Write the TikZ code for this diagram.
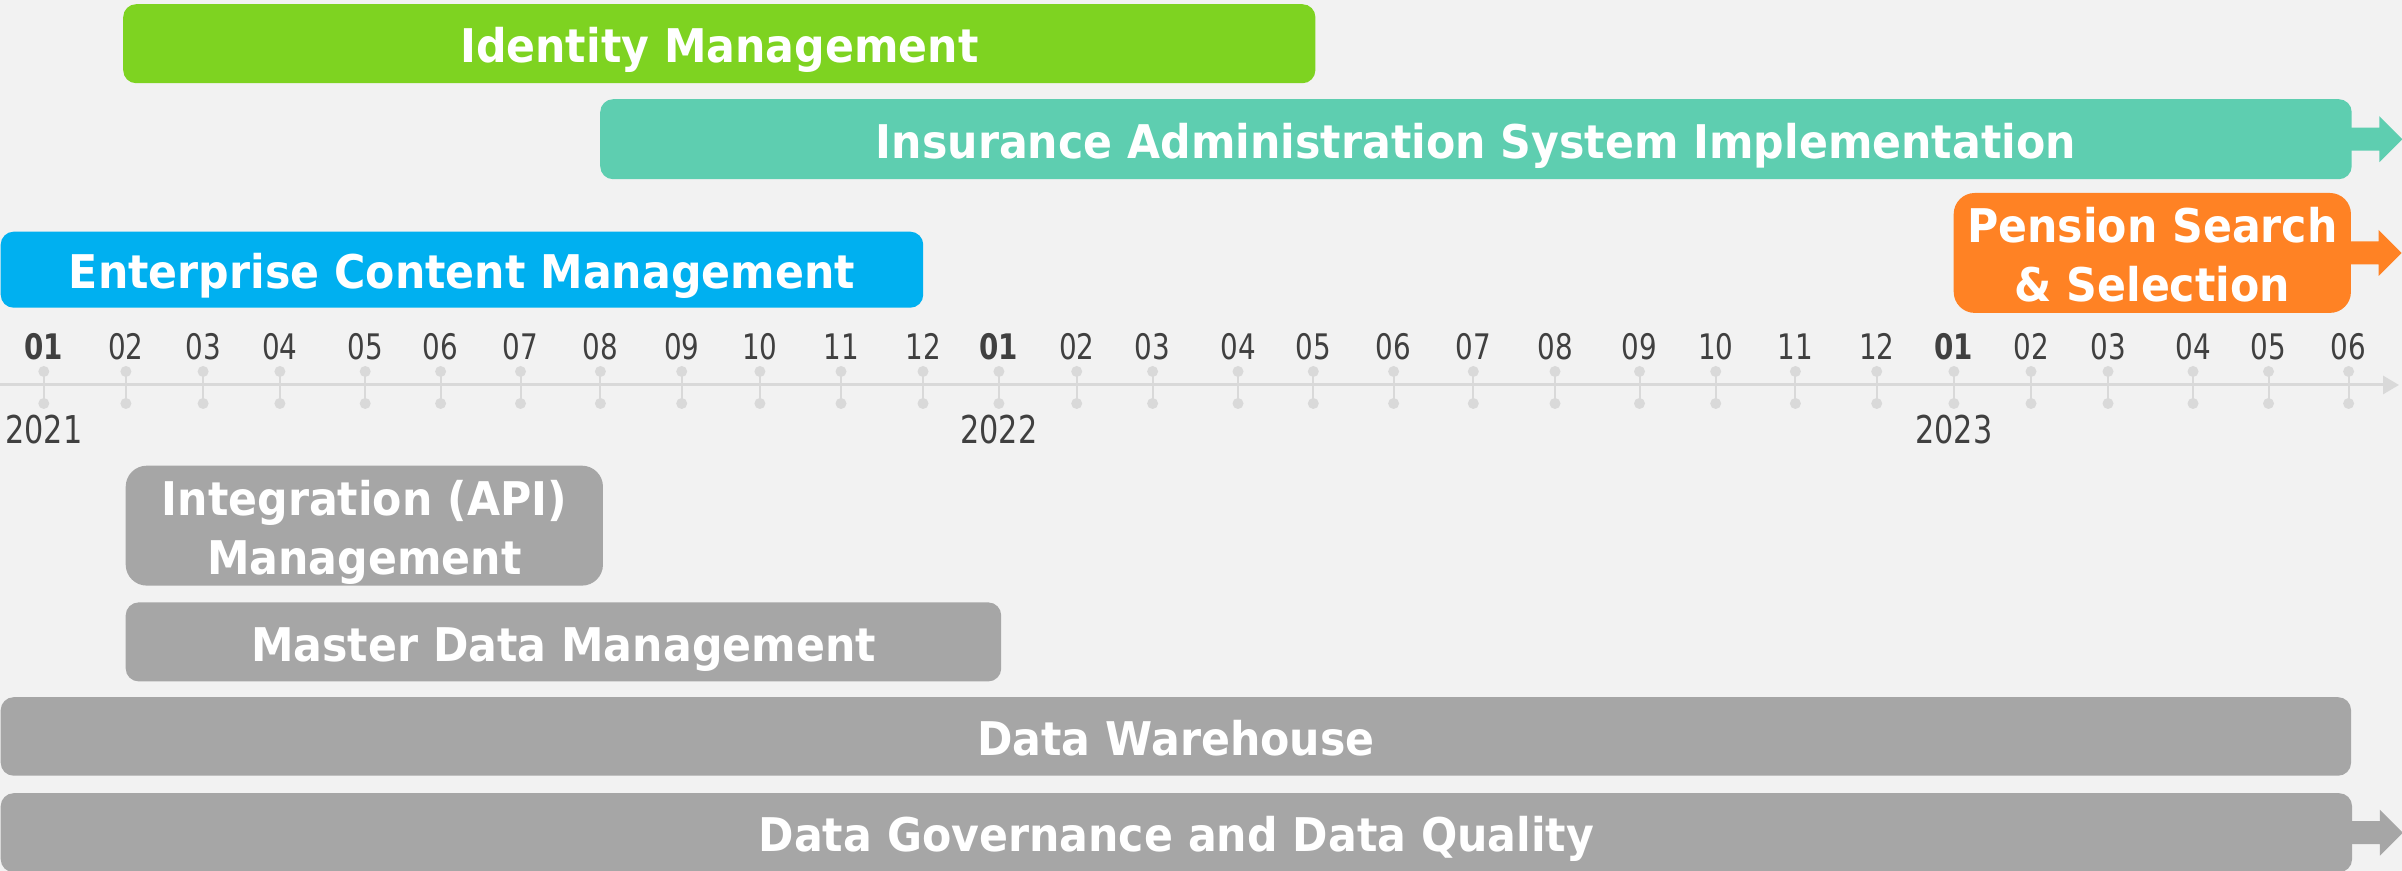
\documentclass[tikz,border=0pt]{standalone}
\usepackage{fontspec}
\setmainfont{DejaVu Sans}
\newfontfamily\barfont[FakeStretch=0.92]{DejaVu Sans}
\newfontfamily\axisfont[FakeStretch=0.79]{DejaVu Sans}
\usepackage{tikz}
\usetikzlibrary{positioning}
\usetikzlibrary{calc,arrows.meta}

\definecolor{bgGrey}{HTML}{F2F2F2}
\definecolor{axisGrey}{HTML}{D9D9D9}
\definecolor{labelGrey}{HTML}{404040}
\definecolor{idmGreen}{HTML}{7ED321}
\definecolor{iasTeal}{HTML}{5ECEB0}
\definecolor{ecmBlue}{HTML}{00B0F0}
\definecolor{pssOrange}{HTML}{FF8224}
\definecolor{barGrey}{HTML}{A6A6A6}

% run-on arrow at the right end of a bar
\newcommand{\runon}[2]{%
	\fill[#2] ($(#1.east)+(-3,-11.5)$) -- ++(30,0) -- ++(0,-11.5) -- ++(23,23)
		-- ++(-23,23) -- ++(0,-11.5) -- ++(-30,0) -- cycle;}

\tikzset{
	barbase/.style={rectangle, inner sep=0pt, anchor=north west,
		text=white, align=center,
		font=\barfont\bfseries\fontsize{13.2}{16.7}\selectfont},
	bar/.style={barbase, rounded corners=1.3mm, minimum height=7.9mm,
		text height=14.1pt, text depth=3.2pt},
	tallbar/.style={barbase, rounded corners=2.1mm, minimum height=11.8mm,
		text height=30.9pt, text depth=3.2pt},
	month/.style={anchor=base, inner sep=0pt, text=labelGrey,
		font=\axisfont\fontsize{10}{11}\selectfont},
	monthbold/.style={month, font=\axisfont\bfseries\fontsize{10}{11}\selectfont},
	year/.style={month, font=\axisfont\fontsize{10.9}{12}\selectfont},
	tick/.style={draw=axisGrey, line width=0.2mm},
	tickdot/.style={fill=axisGrey},
	axis/.style={draw=axisGrey, line width=0.3mm, -{Triangle[length=1.6mm, width=1.8mm]}},
}

\begin{document}
\begin{tikzpicture}[x=0.01cm, y=-0.01cm]
	
	% ------------------------------------------------
	% Page size and background
	\fill[bgGrey] (0,0) rectangle (2402,871);
	\useasboundingbox (0,0) rectangle (2402,871);
	
	% ------------------------------------------------
	% Time axis
	\coordinate (AxL) at (0,385);
	\coordinate (AxR) at (2399,385);
	\draw[axis] (AxL) -- (AxR);
	
	\foreach \x/\m/\s [count=\i] in {43.8/01/monthbold, 125.9/02/month, 203.1/03/month,
		279.9/04/month, 365.2/05/month, 440.6/06/month, 520.5/07/month, 600.4/08/month,
		681.7/09/month, 759.9/10/month, 841.0/11/month, 923.0/12/month,
		998.9/01/monthbold, 1076.7/02/month, 1152.6/03/month, 1238.0/04/month,
		1313.3/05/month, 1393.6/06/month, 1473.3/07/month, 1555.0/08/month,
		1639.5/09/month, 1715.7/10/month, 1795.4/11/month, 1876.7/12/month,
		1953.9/01/monthbold, 2031.0/02/month, 2108.0/03/month, 2193.0/04/month,
		2268.5/05/month, 2348.6/06/month}{
		\draw[tick] (\x,371.5) -- (\x,403.5);
		\fill[tickdot] (\x,371.5) circle[radius=0.55mm];
		\fill[tickdot] (\x,403.5) circle[radius=0.55mm];
		\node[\s] (M\i) at (\x,360) {\m};
	}
	
	% ----------------
	% Years
	\node[year] (Y2021) at (43.8,444) {2021};
	\node[year] (Y2022) at (998.9,444) {2022};
	\node[year] (Y2023) at (1953.9,444) {2023};
	
	% ------------------------------------------------
	% Projects above the axis
	\node[bar, fill=idmGreen, minimum width=119.15mm] (IDM) at (122.5,3.5) {Identity Management};
	\node[bar, fill=iasTeal, minimum width=175.05mm, minimum height=8.0mm] (IAS) at (599.5,98.5)
		{Insurance Administration System Implementation};
	\node[bar, fill=ecmBlue, minimum width=92.2mm, minimum height=7.6mm] (ECM) at (0,231)
		{Enterprise Content Management};
	\node[tallbar, fill=pssOrange, minimum width=39.7mm] (PSS) at (1953,192.3)
		{Pension Search\\ \& Selection};
	
	\runon{IAS}{iasTeal}
	\runon{PSS}{pssOrange}
	
	% ------------------------------------------------
	% Projects below the axis
	\node[tallbar, fill=barGrey, minimum width=47.7mm] (INT) at (125,465)
		{Integration (API)\\ Management};
	\node[bar, fill=barGrey, minimum width=87.5mm] (MDM) at (125,601.7) {Master Data Management};
	\node[bar, fill=barGrey, minimum width=234.9mm, minimum height=7.85mm] (DWH) at (0,696.5)
		{Data Warehouse};
	\node[bar, fill=barGrey, minimum width=235mm] (DGQ) at (0,792.5)
		{Data Governance and Data Quality};
	
	\runon{DGQ}{barGrey}
	
\end{tikzpicture}
\end{document}
